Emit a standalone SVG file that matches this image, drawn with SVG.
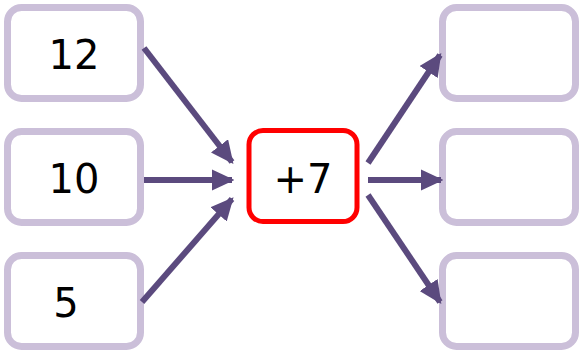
<svg xmlns="http://www.w3.org/2000/svg" width="580" height="351" viewBox="0 0 580 351">
<defs>
<style>
.box{fill:#fff;stroke:#cbbfd9;stroke-width:7}
.op{fill:#fff;stroke:#ff0000;stroke-width:5}
.t{font-family:"DejaVu Sans","Liberation Sans",sans-serif;font-size:40px;fill:#000;text-anchor:middle}
.c{stroke:#5b4a7e;stroke-width:6;fill:none;marker-end:url(#ah)}
</style>
<marker id="ah" markerWidth="3.8" markerHeight="3.6" refX="3.4" refY="1.8" orient="auto" markerUnits="strokeWidth">
<path d="M0,0 L3.8,1.8 L0,3.6 Z" fill="#5b4a7e"/>
</marker>
</defs>
<g id="n12"><rect class="box" x="7.5" y="7.5" width="133" height="91" rx="14"/><text class="t" x="74" y="69">12</text></g>
<g id="n10"><rect class="box" x="7.5" y="131.5" width="133" height="91" rx="14"/><text class="t" x="74" y="193">10</text></g>
<g id="n5"><rect class="box" x="7.5" y="255.5" width="133" height="91" rx="14"/><text class="t" x="66" y="317">5</text></g>
<g id="op"><rect class="op" x="249" y="130.5" width="108" height="91" rx="14"/><text class="t" x="303" y="193">+7</text></g>
<g id="r1"><rect class="box" x="442.5" y="7.5" width="133" height="91" rx="14"/></g>
<g id="r2"><rect class="box" x="442.5" y="131.5" width="133" height="91" rx="14"/></g>
<g id="r3"><rect class="box" x="442.5" y="255.5" width="133" height="91" rx="14"/></g>
<g id="connectors">
<line class="c" x1="144" y1="48" x2="232" y2="162"/>
<line class="c" x1="144" y1="180" x2="232" y2="180"/>
<line class="c" x1="142" y1="302" x2="232" y2="199"/>
<line class="c" x1="368" y1="163" x2="440" y2="55"/>
<line class="c" x1="368" y1="180" x2="441" y2="180"/>
<line class="c" x1="368" y1="195" x2="440" y2="302"/>
</g>
</svg>
